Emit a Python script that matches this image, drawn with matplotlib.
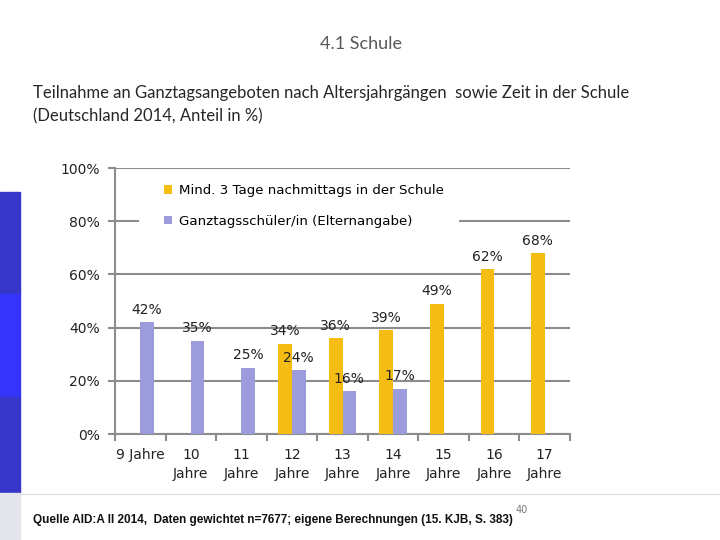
import numpy as np
import matplotlib
matplotlib.use('Agg')
import matplotlib.pyplot as plt
from matplotlib.patches import Rectangle
from matplotlib.lines import Line2D

# data
categories = ['9 Jahre', '10\nJahre', '11\nJahre', '12\nJahre', '13\nJahre',
              '14\nJahre', '15\nJahre', '16\nJahre', '17\nJahre']
nachmittags = [np.nan, np.nan, np.nan, 34, 36, 39, 49, 62, 68]
ganztags = [42, 35, 25, 24, 16, 17, np.nan, np.nan, np.nan]
series_names = ['Mind. 3 Tage nachmittags in der Schule',
                'Ganztagsschüler/in (Elternangabe)']
yticks = [0, 20, 40, 60, 80, 100]

yellow = '#F5BD14'
lavender = '#9C9CDC'
grey = '#8C8C8C'

fig = plt.figure(figsize=(7.2, 5.4), dpi=100)

# slide decoration
fig.patches.append(Rectangle((0, 1 - 294/540), 20/720, 102/540, transform=fig.transFigure,
                             color='#3636C8', zorder=0))
fig.patches.append(Rectangle((0, 1 - 397/540), 20/720, 103/540, transform=fig.transFigure,
                             color='#3434FA', zorder=0))
fig.patches.append(Rectangle((0, 1 - 493/540), 20/720, 96/540, transform=fig.transFigure,
                             color='#3636C8', zorder=0))
fig.patches.append(Rectangle((0, 0), 20/720, 47/540, transform=fig.transFigure,
                             color='#E4E4EC', zorder=0))
fig.lines.append(Line2D([20/720, 1], [1 - 494/540, 1 - 494/540], transform=fig.transFigure,
                        color='#E2E2E2', lw=1))

fig.text(361/720, 1 - 44/540, '4.1 Schule', ha='center', va='center',
         fontsize=13, color='#595959', family='Lato')
fig.text(33/720, 1 - 93/540, 'Teilnahme an Ganztagsangeboten nach Altersjahrgängen  sowie Zeit in der Schule',
         ha='left', va='center', fontsize=12, color='#262626', family='Lato')
fig.text(33/720, 1 - 116/540, '(Deutschland 2014, Anteil in %)',
         ha='left', va='center', fontsize=12, color='#262626', family='Lato')
fig.text(33/720, 1 - 520/540,
         'Quelle AID:A II 2014,  Daten gewichtet n=7677; eigene Berechnungen (15. KJB, S. 383)',
         ha='left', va='center', fontsize=8.5, color='#111111',
         family='Liberation Sans', fontweight='bold')
fig.text(516/720, 1 - 510/540, '40', ha='left', va='center', fontsize=7, color='#777777')

ax = fig.add_axes([115/720, 1 - 434/540, 455/720, 266/540])
x = np.arange(len(categories))
w = 0.27
ax.bar(x - w/2, nachmittags, w, color=yellow, label=series_names[0], zorder=3)
ax.bar(x + w/2, ganztags, w, color=lavender, label=series_names[1], zorder=3)

for xs, vals in [(x - w/2, nachmittags), (x + w/2, ganztags)]:
    for xi, v in zip(xs, vals):
        if not np.isnan(v):
            ax.annotate(f'{v:.0f}%', (xi, v), xytext=(0, 4), textcoords='offset points',
                        ha='center', va='bottom', fontsize=10, color='#222222', zorder=4)

ax.set_xlim(-0.5, len(categories) - 0.5)
ax.set_ylim(0, 100)
ax.set_yticks(yticks)
ax.set_yticklabels([f'{t}%' for t in yticks])
ax.set_xticks(np.arange(len(categories) + 1) - 0.5)
ax.set_xticklabels([])
ax.set_xticks(x, minor=True)
ax.set_xticklabels(categories, minor=True, linespacing=1.45)
ax.tick_params(axis='x', which='minor', length=0, pad=10, labelsize=10, colors='#222222')
ax.tick_params(axis='x', which='major', length=5, color=grey, width=1.5)
ax.tick_params(axis='y', length=5, color=grey, width=1.5, labelsize=10, labelcolor='#222222', pad=6)
ax.grid(axis='y', color=grey, lw=1.5, zorder=1)
for s in ['top', 'right']:
    ax.spines[s].set_visible(False)
for s in ['left', 'bottom']:
    ax.spines[s].set_color(grey)
    ax.spines[s].set_linewidth(1.5)

# white legend background hiding part of the 80% gridline
ax.add_patch(Rectangle((24/455, 0.76), 320/455, 0.08, transform=ax.transAxes,
                       facecolor='white', edgecolor='none', zorder=2))
leg = ax.legend(loc='upper left', bbox_to_anchor=(49/455, 250/266), frameon=False,
                fontsize=9.6, handlelength=0.6, handleheight=0.6, handletextpad=0.5,
                labelspacing=1.32, borderpad=0, borderaxespad=0)

fig.savefig('out.png', dpi=100)
